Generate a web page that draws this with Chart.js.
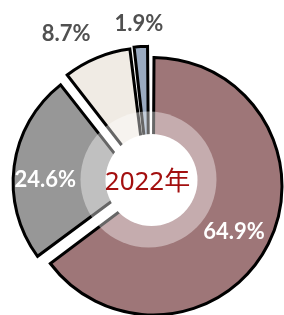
<!DOCTYPE html>
<html><head><meta charset="utf-8">
<script src="https://cdn.jsdelivr.net/npm/chart.js@4"></script>
<style>html,body{margin:0;padding:0;background:#fff;overflow:hidden}</style>
</head><body>
<canvas id="c" width="284" height="315"></canvas>
<script>
const categories = ['A', 'B', 'C', 'D'];
const shares = [64.9, 24.6, 8.7, 1.9];
const sliceColors = ['#9E7678', '#979797', '#F0EBE4', '#9AAAC0'];
const sliceOffsets = [19, 48, 34, 29];
const labelColors = ['#FFFFFF', '#FFFFFF', '#505050', '#505050'];
const labelRadius = [88, 92, 159, 147];
const labelFrac = [0.512, 0.434, 0.278, 0.47];
const centerTitle = '2022年';

const overlay = {
  id: 'overlay',
  afterDatasetsDraw(chart) {
    const ctx = chart.ctx;
    const arcs = chart.getDatasetMeta(0).data;
    const cx = arcs[0].x, cy = arcs[0].y;
    ctx.save();
    ctx.fillStyle = 'rgba(255,255,255,0.4)';
    ctx.beginPath(); ctx.arc(cx - 0.5, cy - 4.5, 68, 0, Math.PI * 2); ctx.fill();
    ctx.fillStyle = '#FFFFFF';
    ctx.beginPath(); ctx.arc(cx + 2.5, cy - 4, 46, 0, Math.PI * 2); ctx.fill();
    ctx.fillStyle = '#A30F0F';
    ctx.font = '26px "Noto Sans", "Noto Sans CJK SC"';
    ctx.textAlign = 'center';
    ctx.textBaseline = 'middle';
    ctx.fillText(centerTitle, cx - 1.5, cy - 1);
    ctx.font = 'bold 22px Lato, "Noto Sans"';
    arcs.forEach((a, i) => {
      const p = a.getProps(['startAngle', 'endAngle', 'circumference'], true);
      const half = (p.startAngle + p.endAngle) / 2;
      const off = sliceOffsets[i] / 4;
      const fix = 1 - Math.sin(Math.min(Math.PI, p.circumference));
      const t = off * (1 + fix);
      const ox = a.x + Math.cos(half) * t, oy = a.y + Math.sin(half) * t;
      const ang = p.startAngle + labelFrac[i] * (p.endAngle - p.startAngle);
      ctx.fillStyle = labelColors[i];
      ctx.fillText(shares[i].toFixed(1) + '%', ox + Math.cos(ang) * labelRadius[i], oy + Math.sin(ang) * labelRadius[i]);
    });
    ctx.restore();
  }
};

new Chart(document.getElementById('c'), {
  type: 'doughnut',
  data: {
    labels: categories,
    datasets: [{
      data: shares,
      backgroundColor: sliceColors,
      borderColor: '#000000',
      borderWidth: 3,
      borderJoinStyle: 'miter',
      offset: sliceOffsets,
      hoverOffset: 0
    }]
  },
  options: {
    responsive: false,
    animation: false,
    cutout: 0,
    radius: 124,
    layout: { padding: { left: 14, right: 0, top: 53, bottom: 0 } },
    events: [],
    plugins: { legend: { display: false }, tooltip: { enabled: false } }
  },
  plugins: [overlay]
});
</script>
</body></html>
